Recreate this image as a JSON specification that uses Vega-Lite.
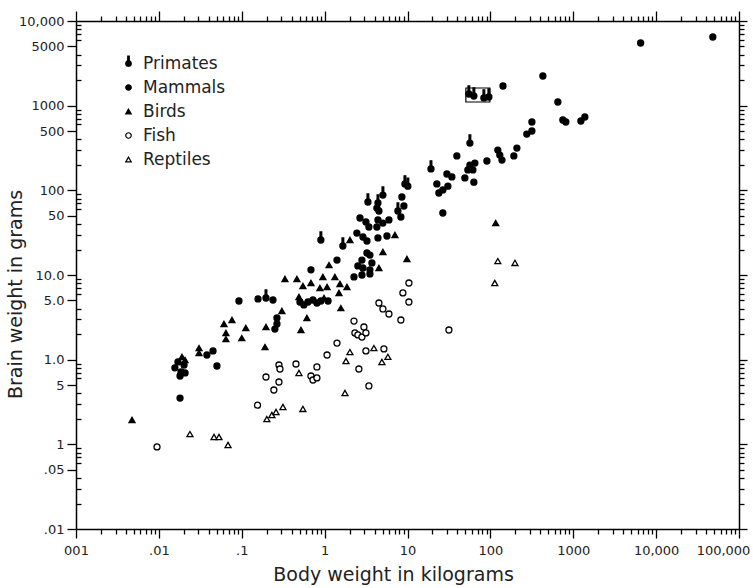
{
  "$schema": "https://vega.github.io/schema/vega-lite/v6.json",
  "width": 663,
  "height": 508,
  "autosize": "none",
  "padding": {"left": 76, "top": 21, "right": 14, "bottom": 59},
  "background": "white",
  "config": {"view": {"stroke": null}},
  "datasets": {
    "pts": [
      {"group":"Mammals","body_kg":6500,"brain_g":5500},
      {"group":"Mammals","body_kg":48300,"brain_g":6470},
      {"group":"Mammals","body_kg":430,"brain_g":2240},
      {"group":"Mammals","body_kg":142,"brain_g":1707},
      {"group":"Mammals","body_kg":652,"brain_g":1105},
      {"group":"Mammals","body_kg":749,"brain_g":677},
      {"group":"Mammals","body_kg":814,"brain_g":641},
      {"group":"Mammals","body_kg":1236,"brain_g":659},
      {"group":"Mammals","body_kg":1380,"brain_g":735},
      {"group":"Mammals","body_kg":317,"brain_g":641},
      {"group":"Mammals","body_kg":317,"brain_g":502},
      {"group":"Mammals","body_kg":275,"brain_g":462},
      {"group":"Mammals","body_kg":209,"brain_g":316},
      {"group":"Mammals","body_kg":192,"brain_g":255},
      {"group":"Mammals","body_kg":123,"brain_g":299},
      {"group":"Mammals","body_kg":130,"brain_g":261},
      {"group":"Mammals","body_kg":138,"brain_g":228},
      {"group":"Mammals","body_kg":90.8,"brain_g":222},
      {"group":"Mammals","body_kg":39.4,"brain_g":255},
      {"group":"Mammals","body_kg":65,"brain_g":210},
      {"group":"Mammals","body_kg":56.6,"brain_g":199},
      {"group":"Mammals","body_kg":53.5,"brain_g":174},
      {"group":"Mammals","body_kg":61.5,"brain_g":174},
      {"group":"Mammals","body_kg":49.2,"brain_g":140},
      {"group":"Mammals","body_kg":63.2,"brain_g":125},
      {"group":"Mammals","body_kg":29.9,"brain_g":156},
      {"group":"Mammals","body_kg":34.3,"brain_g":144},
      {"group":"Mammals","body_kg":22.6,"brain_g":119},
      {"group":"Mammals","body_kg":30.7,"brain_g":112},
      {"group":"Mammals","body_kg":26.7,"brain_g":101},
      {"group":"Mammals","body_kg":23.9,"brain_g":93},
      {"group":"Mammals","body_kg":8.56,"brain_g":83.4},
      {"group":"Mammals","body_kg":9.05,"brain_g":65.3},
      {"group":"Mammals","body_kg":26.7,"brain_g":54},
      {"group":"Mammals","body_kg":4.27,"brain_g":61.8},
      {"group":"Mammals","body_kg":4.52,"brain_g":57},
      {"group":"Mammals","body_kg":8.32,"brain_g":48.4},
      {"group":"Mammals","body_kg":2.67,"brain_g":47.1},
      {"group":"Mammals","body_kg":3.15,"brain_g":42.3},
      {"group":"Mammals","body_kg":3.42,"brain_g":36.9},
      {"group":"Mammals","body_kg":4.4,"brain_g":44.7},
      {"group":"Mammals","body_kg":4.27,"brain_g":36.9},
      {"group":"Mammals","body_kg":5.05,"brain_g":41.1},
      {"group":"Mammals","body_kg":5.97,"brain_g":44.7},
      {"group":"Mammals","body_kg":2.45,"brain_g":31.3},
      {"group":"Mammals","body_kg":2.9,"brain_g":28.1},
      {"group":"Mammals","body_kg":3.24,"brain_g":25.2},
      {"group":"Mammals","body_kg":4.4,"brain_g":27.4},
      {"group":"Mammals","body_kg":5.65,"brain_g":28.9},
      {"group":"Mammals","body_kg":3.24,"brain_g":18.2},
      {"group":"Mammals","body_kg":3.52,"brain_g":17.2},
      {"group":"Mammals","body_kg":2.82,"brain_g":15.0},
      {"group":"Mammals","body_kg":2.52,"brain_g":12.8},
      {"group":"Mammals","body_kg":2.9,"brain_g":12.1},
      {"group":"Mammals","body_kg":3.52,"brain_g":11.5},
      {"group":"Mammals","body_kg":3.72,"brain_g":13.9},
      {"group":"Mammals","body_kg":3.52,"brain_g":10.3},
      {"group":"Mammals","body_kg":2.82,"brain_g":10.0},
      {"group":"Mammals","body_kg":1.41,"brain_g":15.0},
      {"group":"Mammals","body_kg":0.684,"brain_g":11.5},
      {"group":"Mammals","body_kg":2.26,"brain_g":9.48},
      {"group":"Mammals","body_kg":0.0925,"brain_g":4.93},
      {"group":"Mammals","body_kg":0.157,"brain_g":5.21},
      {"group":"Mammals","body_kg":0.238,"brain_g":5.07},
      {"group":"Mammals","body_kg":0.504,"brain_g":4.8},
      {"group":"Mammals","body_kg":0.562,"brain_g":4.43},
      {"group":"Mammals","body_kg":0.63,"brain_g":4.8},
      {"group":"Mammals","body_kg":0.723,"brain_g":5.07},
      {"group":"Mammals","body_kg":0.807,"brain_g":4.67},
      {"group":"Mammals","body_kg":0.901,"brain_g":4.93},
      {"group":"Mammals","body_kg":1.1,"brain_g":4.93},
      {"group":"Mammals","body_kg":0.266,"brain_g":3.11},
      {"group":"Mammals","body_kg":0.266,"brain_g":2.64},
      {"group":"Mammals","body_kg":0.251,"brain_g":2.3},
      {"group":"Mammals","body_kg":0.0502,"brain_g":0.842},
      {"group":"Mammals","body_kg":0.038,"brain_g":1.135},
      {"group":"Mammals","body_kg":0.045,"brain_g":1.27},
      {"group":"Mammals","body_kg":0.018,"brain_g":0.352},
      {"group":"Mammals","body_kg":0.017,"brain_g":0.94},
      {"group":"Mammals","body_kg":0.0201,"brain_g":0.865},
      {"group":"Mammals","body_kg":0.0156,"brain_g":0.8},
      {"group":"Mammals","body_kg":0.0185,"brain_g":0.716},
      {"group":"Mammals","body_kg":0.0207,"brain_g":0.697},
      {"group":"Mammals","body_kg":0.018,"brain_g":0.641},
      {"group":"Primates","body_kg":55.0,"brain_g":1374},
      {"group":"Primates","body_kg":63.2,"brain_g":1300},
      {"group":"Primates","body_kg":83.5,"brain_g":1233},
      {"group":"Primates","body_kg":95.9,"brain_g":1265},
      {"group":"Primates","body_kg":56.6,"brain_g":362},
      {"group":"Primates","body_kg":19.2,"brain_g":179},
      {"group":"Primates","body_kg":9.31,"brain_g":119},
      {"group":"Primates","body_kg":10.1,"brain_g":112},
      {"group":"Primates","body_kg":5.05,"brain_g":88},
      {"group":"Primates","body_kg":3.33,"brain_g":72.8},
      {"group":"Primates","body_kg":4.4,"brain_g":70.9},
      {"group":"Primates","body_kg":7.66,"brain_g":57},
      {"group":"Primates","body_kg":1.66,"brain_g":22.0},
      {"group":"Primates","body_kg":0.901,"brain_g":25.9},
      {"group":"Primates","body_kg":0.196,"brain_g":5.35},
      {"group":"Birds","body_kg":116,"brain_g":41.1},
      {"group":"Birds","body_kg":7.05,"brain_g":29.7},
      {"group":"Birds","body_kg":2.02,"brain_g":25.9},
      {"group":"Birds","body_kg":5.05,"brain_g":18.7},
      {"group":"Birds","body_kg":9.84,"brain_g":15.5},
      {"group":"Birds","body_kg":1.13,"brain_g":13.1},
      {"group":"Birds","body_kg":0.332,"brain_g":8.97},
      {"group":"Birds","body_kg":0.463,"brain_g":8.97},
      {"group":"Birds","body_kg":0.547,"brain_g":7.41},
      {"group":"Birds","body_kg":0.684,"brain_g":8.05},
      {"group":"Birds","body_kg":0.953,"brain_g":9.48},
      {"group":"Birds","body_kg":1.33,"brain_g":9.48},
      {"group":"Birds","body_kg":1.53,"brain_g":7.83},
      {"group":"Birds","body_kg":1.86,"brain_g":7.22},
      {"group":"Birds","body_kg":0.877,"brain_g":7.03},
      {"group":"Birds","body_kg":1.07,"brain_g":7.22},
      {"group":"Birds","body_kg":1.49,"brain_g":6.14},
      {"group":"Birds","body_kg":0.49,"brain_g":5.5},
      {"group":"Birds","body_kg":0.982,"brain_g":5.35},
      {"group":"Birds","body_kg":4.52,"brain_g":12.1},
      {"group":"Birds","body_kg":1.57,"brain_g":4.07},
      {"group":"Birds","body_kg":0.305,"brain_g":3.76},
      {"group":"Birds","body_kg":0.611,"brain_g":3.11},
      {"group":"Birds","body_kg":0.196,"brain_g":2.43},
      {"group":"Birds","body_kg":0.518,"brain_g":2.24},
      {"group":"Birds","body_kg":0.191,"brain_g":1.41},
      {"group":"Birds","body_kg":0.061,"brain_g":2.64},
      {"group":"Birds","body_kg":0.0762,"brain_g":2.94},
      {"group":"Birds","body_kg":0.112,"brain_g":2.37},
      {"group":"Birds","body_kg":0.0644,"brain_g":2.07},
      {"group":"Birds","body_kg":0.0644,"brain_g":1.75},
      {"group":"Birds","body_kg":0.1,"brain_g":1.8},
      {"group":"Birds","body_kg":0.0305,"brain_g":1.37},
      {"group":"Birds","body_kg":0.0305,"brain_g":1.2},
      {"group":"Birds","body_kg":0.019,"brain_g":1.08},
      {"group":"Birds","body_kg":0.0207,"brain_g":0.99},
      {"group":"Birds","body_kg":0.00474,"brain_g":0.194},
      {"group":"Fish","body_kg":10.4,"brain_g":8.05},
      {"group":"Fish","body_kg":8.8,"brain_g":6.14},
      {"group":"Fish","body_kg":10.4,"brain_g":4.8},
      {"group":"Fish","body_kg":4.52,"brain_g":4.67},
      {"group":"Fish","body_kg":5.05,"brain_g":3.97},
      {"group":"Fish","body_kg":5.97,"brain_g":3.46},
      {"group":"Fish","body_kg":8.32,"brain_g":2.94},
      {"group":"Fish","body_kg":2.26,"brain_g":2.86},
      {"group":"Fish","body_kg":2.98,"brain_g":2.43},
      {"group":"Fish","body_kg":2.32,"brain_g":2.07},
      {"group":"Fish","body_kg":2.52,"brain_g":1.96},
      {"group":"Fish","body_kg":2.82,"brain_g":1.85},
      {"group":"Fish","body_kg":3.15,"brain_g":2.07},
      {"group":"Fish","body_kg":1.41,"brain_g":1.57},
      {"group":"Fish","body_kg":3.15,"brain_g":1.27},
      {"group":"Fish","body_kg":5.19,"brain_g":1.34},
      {"group":"Fish","body_kg":1.07,"brain_g":1.135},
      {"group":"Fish","body_kg":0.807,"brain_g":0.82},
      {"group":"Fish","body_kg":0.451,"brain_g":0.889},
      {"group":"Fish","body_kg":0.281,"brain_g":0.865},
      {"group":"Fish","body_kg":0.289,"brain_g":0.776},
      {"group":"Fish","body_kg":2.59,"brain_g":0.776},
      {"group":"Fish","body_kg":0.684,"brain_g":0.641},
      {"group":"Fish","body_kg":0.723,"brain_g":0.575},
      {"group":"Fish","body_kg":0.807,"brain_g":0.608},
      {"group":"Fish","body_kg":0.196,"brain_g":0.624},
      {"group":"Fish","body_kg":0.281,"brain_g":0.545},
      {"group":"Fish","body_kg":0.244,"brain_g":0.438},
      {"group":"Fish","body_kg":3.42,"brain_g":0.489},
      {"group":"Fish","body_kg":31.6,"brain_g":2.24},
      {"group":"Fish","body_kg":0.155,"brain_g":0.29},
      {"group":"Fish","body_kg":0.00949,"brain_g":0.0931},
      {"group":"Reptiles","body_kg":123,"brain_g":14.6},
      {"group":"Reptiles","body_kg":198,"brain_g":13.9},
      {"group":"Reptiles","body_kg":113,"brain_g":8.05},
      {"group":"Reptiles","body_kg":3.93,"brain_g":1.37},
      {"group":"Reptiles","body_kg":2.02,"brain_g":1.23},
      {"group":"Reptiles","body_kg":5.8,"brain_g":1.08},
      {"group":"Reptiles","body_kg":4.91,"brain_g":0.94},
      {"group":"Reptiles","body_kg":1.81,"brain_g":0.964},
      {"group":"Reptiles","body_kg":0.49,"brain_g":0.697},
      {"group":"Reptiles","body_kg":1.76,"brain_g":0.404},
      {"group":"Reptiles","body_kg":0.0237,"brain_g":0.132},
      {"group":"Reptiles","body_kg":0.0463,"brain_g":0.122},
      {"group":"Reptiles","body_kg":0.0531,"brain_g":0.122},
      {"group":"Reptiles","body_kg":0.0683,"brain_g":0.0982},
      {"group":"Reptiles","body_kg":0.201,"brain_g":0.199},
      {"group":"Reptiles","body_kg":0.231,"brain_g":0.222},
      {"group":"Reptiles","body_kg":0.259,"brain_g":0.241},
      {"group":"Reptiles","body_kg":0.314,"brain_g":0.276},
      {"group":"Reptiles","body_kg":0.547,"brain_g":0.262}
    ],
    "box": [{"x1": 50.6, "x2": 98.6, "y1": 1105, "y2": 1617}]
  },
  "resolve": {"axis": {"x": "independent", "y": "independent"}},
  "layer": [
    {
      "data": {"name": "pts"},
      "mark": {"type": "point", "strokeWidth": 1.3, "opacity": 1, "fillOpacity": 1, "strokeOpacity": 1, "size": 36},
      "encoding": {
        "x": {
          "field": "body_kg", "type": "quantitative",
          "scale": {"type": "log", "domain": [0.001, 100000], "nice": false},
          "axis": {
            "orient": "bottom",
            "values": [0.001,0.002,0.003,0.004,0.005,0.006,0.007,0.008,0.009,0.01,0.02,0.03,0.04,0.05,0.06,0.07,0.08,0.09,0.1,0.2,0.3,0.4,0.5,0.6,0.7,0.8,0.9,1,2,3,4,5,6,7,8,9,10,20,30,40,50,60,70,80,90,100,200,300,400,500,600,700,800,900,1000,2000,3000,4000,5000,6000,7000,8000,9000,10000,20000,30000,40000,50000,60000,70000,80000,90000,100000],
            "labelExpr": "datum.value==0.001?'001':datum.value==0.01?'.01':datum.value==0.1?'.1':datum.value==1?'1':datum.value==10?'10':datum.value==100?'100':datum.value==1000?'1000':datum.value==10000?'10,000':datum.value==100000?'100,000':''",
            "labelOffset": {"condition": {"test": "datum.value==100000", "value": -16}, "value": 0},
            "tickSize": {"condition": {"test": "indexof([0.001,0.01,0.1,1,10,100,1000,10000,100000], datum.value) >= 0", "value": 9}, "value": 5},
            "tickColor": "black", "tickWidth": 1.3,
            "domainColor": "black", "domainWidth": 1.5,
            "grid": false, "labelFlush": false, "labelOverlap": false,
            "labelFont": "DejaVu Sans", "labelFontSize": 13, "labelColor": "#222", "labelPadding": 6,
            "title": "Body weight in kilograms",
            "titleFont": "DejaVu Sans", "titleFontSize": 19, "titleFontWeight": "normal", "titleColor": "#222",
            "titleBaseline": "alphabetic", "titleX": 317, "titleY": 51
          }
        },
        "y": {
          "field": "brain_g", "type": "quantitative",
          "scale": {"type": "log", "domain": [0.01, 10000], "nice": false},
          "axis": {
            "orient": "left",
            "values": [0.01,0.02,0.03,0.04,0.05,0.06,0.07,0.08,0.09,0.1,0.2,0.3,0.4,0.5,0.6,0.7,0.8,0.9,1,2,3,4,5,6,7,8,9,10,20,30,40,50,60,70,80,90,100,200,300,400,500,600,700,800,900,1000,2000,3000,4000,5000,6000,7000,8000,9000,10000],
            "labelExpr": "datum.value==10000?'10,000':datum.value==5000?'5000':datum.value==1000?'1000':datum.value==500?'500':datum.value==100?'100':datum.value==50?'50':datum.value==10?'10.0':datum.value==5?'5.0':datum.value==1?'1.0':datum.value==0.5?'5':datum.value==0.1?'1':datum.value==0.05?'.05':datum.value==0.01?'.01':''",
            "tickSize": {"condition": {"test": "indexof([0.01,0.05,0.1,0.5,1,5,10,50,100,500,1000,5000,10000], datum.value) >= 0", "value": 9}, "value": -5},
            "tickColor": "black", "tickWidth": 1.3,
            "domainColor": "black", "domainWidth": 1.5,
            "grid": false, "labelOverlap": false, "labelFlush": false,
            "labelFont": "DejaVu Sans", "labelFontSize": 13, "labelColor": "#222", "labelPadding": 3,
            "title": "Brain weight in grams",
            "titleFont": "DejaVu Sans", "titleFontSize": 19, "titleFontWeight": "normal", "titleColor": "#222",
            "titleBaseline": "alphabetic", "titleAngle": -90, "titleAlign": "center", "titleX": -55, "titleY": 273
          }
        },
        "shape": {
          "field": "group", "type": "nominal",
          "scale": {"domain": ["Primates","Mammals","Birds","Fish","Reptiles"], "range": ["M-0.28,-2.7L0.28,-2.7L0.28,-0.6L-0.28,-0.6ZM1,0A1,1,0,1,1,-1,0A1,1,0,1,1,1,0Z","circle","triangle-up","circle","triangle-up"]},
          "legend": {"title": null, "orient": "none", "legendX": 44, "legendY": 34, "padding": 0, "labelFont": "DejaVu Sans", "labelFontSize": 17, "labelColor": "#222", "rowPadding": 6, "symbolSize": 30, "symbolStrokeWidth": 1.2, "labelOffset": 6}
        },
        "fill": {
          "field": "group", "type": "nominal",
          "scale": {"domain": ["Primates","Mammals","Birds","Fish","Reptiles"], "range": ["black","black","black","white","white"]},
          "legend": {"title": null, "orient": "none", "legendX": 44, "legendY": 34, "padding": 0, "labelFont": "DejaVu Sans", "labelFontSize": 17, "labelColor": "#222", "rowPadding": 6, "symbolSize": 30, "symbolStrokeWidth": 1.2, "labelOffset": 6}
        },
        "stroke": {
          "field": "group", "type": "nominal",
          "scale": {"domain": ["Primates","Mammals","Birds","Fish","Reptiles"], "range": ["black","black","black","black","black"]},
          "legend": {"title": null, "orient": "none", "legendX": 44, "legendY": 34, "padding": 0, "labelFont": "DejaVu Sans", "labelFontSize": 17, "labelColor": "#222", "rowPadding": 6, "symbolSize": 30, "symbolStrokeWidth": 1.2, "labelOffset": 6}
        }
      }
    },
    {
      "data": {"name": "box"},
      "mark": {"type": "rect", "fill": null, "stroke": "black", "strokeWidth": 1.2},
      "encoding": {
        "x": {
          "field": "x1", "type": "quantitative",
          "axis": {
            "orient": "top",
            "values": [0.001,0.002,0.003,0.004,0.005,0.006,0.007,0.008,0.009,0.01,0.02,0.03,0.04,0.05,0.06,0.07,0.08,0.09,0.1,0.2,0.3,0.4,0.5,0.6,0.7,0.8,0.9,1,2,3,4,5,6,7,8,9,10,20,30,40,50,60,70,80,90,100,200,300,400,500,600,700,800,900,1000,2000,3000,4000,5000,6000,7000,8000,9000,10000,20000,30000,40000,50000,60000,70000,80000,90000,100000],
            "labels": false, "title": null, "grid": false,
            "tickSize": {"condition": {"test": "indexof([0.001,0.01,0.1,1,10,100,1000,10000,100000], datum.value) >= 0", "value": 10}, "value": 5},
            "tickColor": "black", "tickWidth": 1.3,
            "domainColor": "black", "domainWidth": 1.5
          }
        },
        "x2": {"field": "x2"},
        "y": {
          "field": "y1", "type": "quantitative",
          "axis": {
            "orient": "right",
            "values": [0.01,0.02,0.03,0.04,0.05,0.06,0.07,0.08,0.09,0.1,0.2,0.3,0.4,0.5,0.6,0.7,0.8,0.9,1,2,3,4,5,6,7,8,9,10,20,30,40,50,60,70,80,90,100,200,300,400,500,600,700,800,900,1000,2000,3000,4000,5000,6000,7000,8000,9000,10000],
            "labels": false, "title": null, "grid": false,
            "tickSize": {"condition": {"test": "indexof([0.01,0.1,1,10,100,1000,10000], datum.value) >= 0", "value": 8}, "value": 5},
            "tickColor": "black", "tickWidth": 1.3,
            "domainColor": "black", "domainWidth": 1.5
          }
        },
        "y2": {"field": "y2"}
      }
    }
  ]
}
